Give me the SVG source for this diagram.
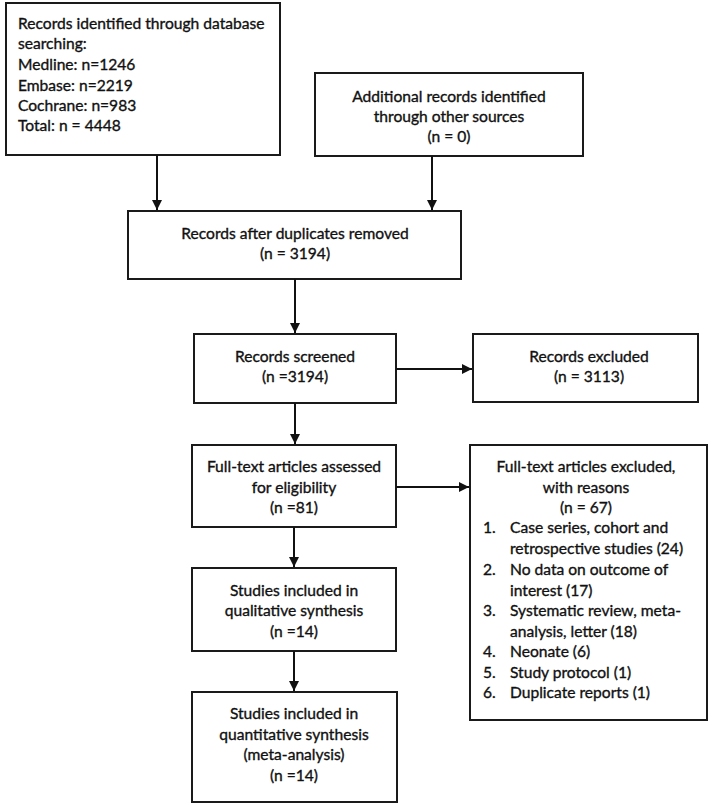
<svg xmlns="http://www.w3.org/2000/svg" width="708" height="805" viewBox="0 0 708 805">
<style>
.box{fill:#fff;stroke:#1a1a1a;stroke-width:2}
text{font-family:Lato,"Liberation Sans",Arial,sans-serif;font-size:15.6px;fill:#111;stroke:#111;stroke-width:0.35}
.c{text-anchor:middle}
.conn line{stroke:#111;stroke-width:2;fill:none}
</style>
<defs>
<marker id="ah" viewBox="0 0 10 10" refX="10" refY="5" markerWidth="5" markerHeight="5" orient="auto" markerUnits="strokeWidth">
<path d="M0,0 L10,5 L0,10 z" fill="#111"/>
</marker>
</defs>
<rect width="708" height="805" fill="#fff"/>
<g id="identified">
<rect class="box" x="6" y="3" width="274" height="152"/>
<text x="18" y="29">Records identified through database</text>
<text x="18" y="49">searching:</text>
<text x="18" y="70">Medline: n=1246</text>
<text x="18" y="91">Embase: n=2219</text>
<text x="18" y="111">Cochrane: n=983</text>
<text x="18" y="131">Total: n = 4448</text>
</g>
<g id="additional">
<rect class="box" x="315" y="73" width="268" height="83"/>
<text class="c" x="449" y="102">Additional records identified</text>
<text class="c" x="449" y="122">through other sources</text>
<text class="c" x="449" y="142">(n = 0)</text>
</g>
<g id="deduplicated">
<rect class="box" x="128" y="211" width="333" height="68"/>
<text class="c" x="295" y="239">Records after duplicates removed</text>
<text class="c" x="295" y="259">(n = 3194)</text>
</g>
<g id="screened">
<rect class="box" x="194" y="334" width="202" height="69"/>
<text class="c" x="295" y="362">Records screened</text>
<text class="c" x="295" y="382">(n =3194)</text>
</g>
<g id="excluded">
<rect class="box" x="473" y="334" width="225" height="68"/>
<text class="c" x="589" y="362">Records excluded</text>
<text class="c" x="589" y="382">(n = 3113)</text>
</g>
<g id="fulltext">
<rect class="box" x="192" y="445" width="204" height="82"/>
<text class="c" x="294" y="472">Full-text articles assessed</text>
<text class="c" x="294" y="493">for eligibility</text>
<text class="c" x="294" y="513">(n =81)</text>
</g>
<g id="fulltext-excluded">
<rect class="box" x="470" y="445" width="237" height="275"/>
<text class="c" x="586" y="472">Full-text articles excluded,</text>
<text class="c" x="586" y="493">with reasons</text>
<text class="c" x="586" y="513">(n = 67)</text>
<text x="483" y="533">1.</text><text x="510" y="533">Case series, cohort and</text>
<text x="510" y="554">retrospective studies (24)</text>
<text x="483" y="575">2.</text><text x="510" y="575">No data on outcome of</text>
<text x="510" y="596">interest (17)</text>
<text x="483" y="616">3.</text><text x="510" y="616">Systematic review, meta-</text>
<text x="510" y="637">analysis, letter (18)</text>
<text x="483" y="657">4.</text><text x="510" y="657">Neonate (6)</text>
<text x="483" y="678">5.</text><text x="510" y="678">Study protocol (1)</text>
<text x="483" y="698">6.</text><text x="510" y="698">Duplicate reports (1)</text>
</g>
<g id="qualitative">
<rect class="box" x="192" y="568" width="204" height="83"/>
<text class="c" x="294" y="596">Studies included in</text>
<text class="c" x="294" y="616">qualitative synthesis</text>
<text class="c" x="294" y="637">(n =14)</text>
</g>
<g id="quantitative">
<rect class="box" x="192" y="692" width="205" height="110"/>
<text class="c" x="294" y="719">Studies included in</text>
<text class="c" x="294" y="740">quantitative synthesis</text>
<text class="c" x="294" y="760">(meta-analysis)</text>
<text class="c" x="294" y="781">(n =14)</text>
</g>
<g id="connectors" class="conn">
<line x1="157" y1="155" x2="157" y2="210" marker-end="url(#ah)"/>
<line x1="432" y1="156" x2="432" y2="210" marker-end="url(#ah)"/>
<line x1="295" y1="279" x2="295" y2="333" marker-end="url(#ah)"/>
<line x1="396" y1="369" x2="472" y2="369" marker-end="url(#ah)"/>
<line x1="295" y1="403" x2="295" y2="444" marker-end="url(#ah)"/>
<line x1="396" y1="487" x2="469" y2="487" marker-end="url(#ah)"/>
<line x1="294" y1="527" x2="294" y2="567" marker-end="url(#ah)"/>
<line x1="294" y1="651" x2="294" y2="691" marker-end="url(#ah)"/>
</g>
</svg>
